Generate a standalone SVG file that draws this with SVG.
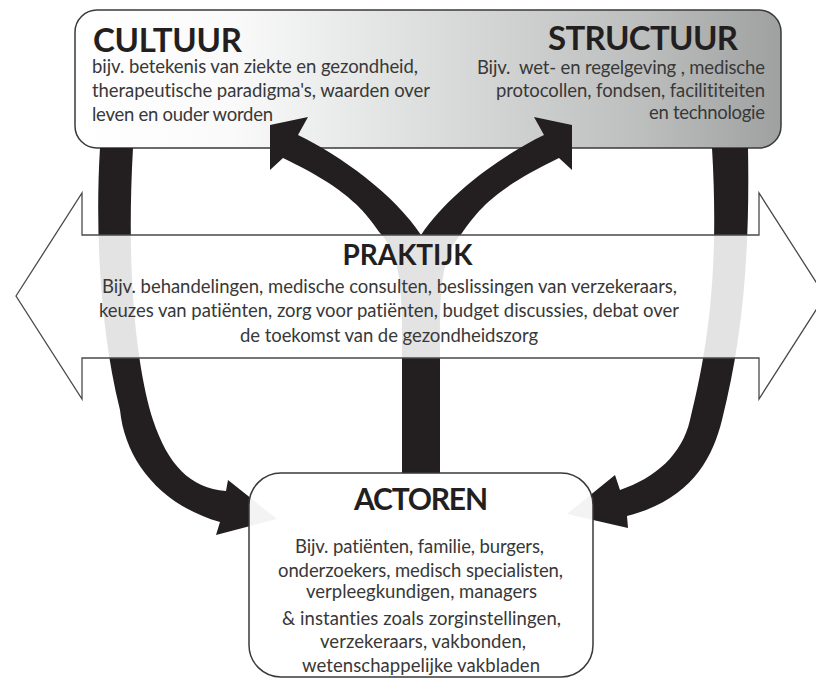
<svg xmlns="http://www.w3.org/2000/svg" width="816" height="684" viewBox="0 0 816 684">
<defs>
<linearGradient id="topGrad" gradientUnits="userSpaceOnUse" x1="75" y1="0" x2="781" y2="0">
<stop offset="0" stop-color="#ffffff"/>
<stop offset="0.22" stop-color="#fafafa"/>
<stop offset="0.5" stop-color="#dcdede"/>
<stop offset="0.8" stop-color="#bdbfbf"/>
<stop offset="1" stop-color="#9fa1a1"/>
</linearGradient>
</defs>
<style>
.title{font-family:Lato,"Open Sans","Liberation Sans",sans-serif;font-weight:bold;fill:#231f20;font-variant-ligatures:none}
.body{font-family:Lato,"Open Sans","Liberation Sans",sans-serif;font-size:18.5px;fill:#383838;font-variant-ligatures:none}
.arrow{fill:#231f20}
.box{stroke:#3a3a3a;stroke-width:1.5}
</style>
<rect width="816" height="684" fill="#ffffff"/>

<g id="top-box">
<rect class="box" x="75" y="10" width="706" height="138" rx="22" ry="22" fill="url(#topGrad)"/>
</g>
<g id="node-cultuur">
<text class="title" x="93" y="52" font-size="33" textLength="149">CULTUUR</text>
<text class="body" x="92" y="73" textLength="326">bijv. betekenis van ziekte en gezondheid,</text>
<text class="body" x="92" y="97" textLength="338">therapeutische paradigma's, waarden over</text>
<text class="body" x="92" y="120.5" textLength="181">leven en ouder worden</text>
</g>
<g id="node-structuur">
<text class="title" x="548" y="50" font-size="33" textLength="190">STRUCTUUR</text>
<text class="body" x="765" y="73.5" text-anchor="end" xml:space="preserve" textLength="288">Bijv.  wet- en regelgeving , medische</text>
<text class="body" x="765" y="96.5" text-anchor="end" textLength="269">protocollen, fondsen, facilititeiten</text>
<text class="body" x="765" y="118.5" text-anchor="end" textLength="116">en technologie</text>
</g>

<g id="connectors">
<path class="arrow" d="M100,148 C95,230 100,330 120,410 C125,460 160,505 220,522 L216,535 L277,519 L228,480 L226,491 C190,488 168,465 153,420 C140,380 125,290 133,148 Z"/>
<path class="arrow" d="M748,148 C750,260 742,340 722,420 C712,460 690,500 627,516 L628,528 L567,514 L615,475 L620,490 C655,478 682,455 690,420 C705,360 720,280 712,148 Z"/>
<path class="arrow" d="M402,474 L402,330 C402,270 395,250 380,233 C365,212 350,190 283,158 L270,170 L270,125 L308,117 L298,135 C340,155 395,195 421,235 C447,195 502,155 544,135 L534,117 L572,125 L572,170 L559,158 C492,190 477,212 462,233 C447,250 440,270 440,330 L440,474 Z"/>
</g>

<g id="node-praktijk">
<path d="M16,296 L82,193 L82,235 L759,235 L759,193 L825,296 L759,399 L759,358 L82,358 L82,399 Z" fill="#ffffff" fill-opacity="0.88" stroke="#4a4a4a" stroke-width="1.3"/>
<text class="title" x="407.5" y="265" font-size="28" text-anchor="middle" textLength="130">PRAKTIJK</text>
<text class="body" x="389.5" y="293" text-anchor="middle" textLength="575">Bijv. behandelingen, medische consulten, beslissingen van verzekeraars,</text>
<text class="body" x="389" y="317" text-anchor="middle" textLength="580">keuzes van patiënten, zorg voor patiënten, budget discussies, debat over</text>
<text class="body" x="389" y="342" text-anchor="middle" textLength="298">de toekomst van de gezondheidszorg</text>
</g>

<g id="node-actoren">
<rect class="box" x="249" y="473" width="344" height="204" rx="32" ry="32" fill="#ffffff" fill-opacity="0.95"/>
<text class="title" x="421" y="510" font-size="30" text-anchor="middle" textLength="134">ACTOREN</text>
<text class="body" x="419.5" y="552.5" text-anchor="middle" textLength="249">Bijv. patiënten, familie, burgers,</text>
<text class="body" x="420.5" y="576.5" text-anchor="middle" textLength="285">onderzoekers, medisch specialisten,</text>
<text class="body" x="421.5" y="598" text-anchor="middle" textLength="231">verpleegkundigen, managers</text>
<text class="body" x="421.5" y="624.5" text-anchor="middle" textLength="279">&amp; instanties zoals zorginstellingen,</text>
<text class="body" x="423" y="648" text-anchor="middle" textLength="206">verzekeraars, vakbonden,</text>
<text class="body" x="421" y="671.5" text-anchor="middle" textLength="238">wetenschappelijke vakbladen</text>
</g>
</svg>
